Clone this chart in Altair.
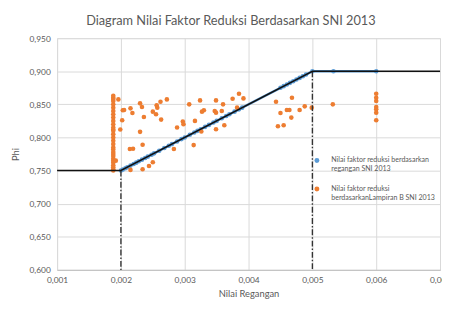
import altair as alt
import pandas as pd

S1 = "Nilai faktor reduksi berdasarkan|regangan SNI 2013"
S2 = "Nilai faktor reduksi|berdasarkanLampiran B SNI 2013"

# Blue series (strain-based reduction factor)
blue_x = [0.00200, 0.00203, 0.00207, 0.00210, 0.00215, 0.00220, 0.00224, 0.00228, 0.00233,
          0.00238, 0.00242, 0.00248, 0.00252, 0.00260, 0.00268, 0.00275, 0.00280,
          0.00288, 0.00295, 0.00300, 0.00308, 0.00315, 0.00320, 0.00325, 0.00332,
          0.00338, 0.00345, 0.00350, 0.00358, 0.00365, 0.00370, 0.00378, 0.00385,
          0.00390, 0.00450, 0.00455, 0.00460, 0.00465, 0.00470, 0.00475, 0.00480,
          0.00485, 0.00490, 0.00500, 0.00533, 0.00600]
blue_y = [0.7500, 0.7515, 0.7535, 0.7550, 0.7575, 0.7600, 0.7620, 0.7640, 0.7665,
          0.7690, 0.7710, 0.7740, 0.7760, 0.7800, 0.7840, 0.7875, 0.7900,
          0.7940, 0.7975, 0.8000, 0.8040, 0.8075, 0.8100, 0.8125, 0.8160,
          0.8190, 0.8225, 0.8250, 0.8290, 0.8325, 0.8350, 0.8390, 0.8425,
          0.8450, 0.8750, 0.8775, 0.8800, 0.8825, 0.8850, 0.8875, 0.8900,
          0.8925, 0.8950, 0.9000, 0.9000, 0.9000]

# Orange series (Lampiran B)
orange_x = [0.00188] * 30 + [
    0.00192, 0.00196, 0.00203, 0.00202, 0.00199, 0.00205, 0.00215, 0.00218, 0.00214,
    0.00219, 0.00230, 0.00233, 0.00236, 0.00230, 0.00234, 0.00215, 0.00234, 0.00244,
    0.00250, 0.00250, 0.00256, 0.00257, 0.00255, 0.00262, 0.00263, 0.00272, 0.00283,
    0.00288, 0.00297, 0.00298, 0.00307, 0.00314, 0.00316, 0.00324, 0.00327, 0.00330,
    0.00326, 0.00349, 0.00347, 0.00349, 0.00349, 0.00360, 0.00362, 0.00358, 0.00375,
    0.00385, 0.00392, 0.00382, 0.00443, 0.00450, 0.00446, 0.00455, 0.00460, 0.00464,
    0.00467, 0.00468, 0.00480, 0.00488, 0.00499, 0.00532,
    0.00600, 0.00600, 0.00600, 0.00600, 0.00600, 0.00600, 0.00600]
orange_y = [0.750, 0.752, 0.755, 0.758, 0.762, 0.765, 0.768, 0.772, 0.775, 0.778,
            0.782, 0.785, 0.790, 0.795, 0.800, 0.805, 0.810, 0.812, 0.815, 0.820,
            0.825, 0.830, 0.835, 0.840, 0.845, 0.850, 0.855, 0.858, 0.860, 0.863] + [
    0.765, 0.8575, 0.841, 0.826, 0.812, 0.8415, 0.844, 0.837, 0.7825,
    0.783, 0.8515, 0.846, 0.831, 0.8085, 0.789, 0.751, 0.752, 0.757,
    0.7625, 0.839, 0.8485, 0.845, 0.835, 0.854, 0.827, 0.8575, 0.7825,
    0.815, 0.824, 0.820, 0.850, 0.7885, 0.825, 0.856, 0.839, 0.841,
    0.809, 0.856, 0.840, 0.8375, 0.8125, 0.850, 0.8185, 0.840, 0.8585,
    0.866, 0.859, 0.845, 0.854, 0.837, 0.817, 0.8185, 0.8415, 0.8415,
    0.830, 0.860, 0.8415, 0.847, 0.845, 0.850,
    0.866, 0.860, 0.855, 0.846, 0.8425, 0.8375, 0.826]

# Reference (SNI) line
ref_x = [0.001, 0.002, 0.005, 0.007]
ref_y = [0.75, 0.75, 0.90, 0.90]

# Dash-dot vertical lines
vline_x = [0.002, 0.005]
vline_top = [0.75, 0.90]
vline_bottom = [0.60, 0.60]

x_ticks = [0.001, 0.002, 0.003, 0.004, 0.005, 0.006, 0.007]
y_ticks = [0.60, 0.65, 0.70, 0.75, 0.80, 0.85, 0.90, 0.95]

BLUE = "#5b9bd5"
ORANGE = "#ed7d31"
GRAY = "#595959"
FONT = "Lato"

blue_df = pd.DataFrame({"x": blue_x, "y": blue_y, "s": S1})
orange_df = pd.DataFrame({"x": orange_x, "y": orange_y, "s": S2})
pts_df = pd.concat([blue_df, orange_df], ignore_index=True)
ref_df = pd.DataFrame({"x": ref_x, "y": ref_y})
vl_df = pd.DataFrame({"x": vline_x, "y": vline_top, "y2": vline_bottom})

lab = "replace(format(datum.value, '.3f'), '.', ',')"

xs = alt.Scale(domain=[0.001, 0.007], nice=False)
ys = alt.Scale(domain=[0.60, 0.95], nice=False)

xax = alt.Axis(values=x_ticks, labelExpr=lab, title="Nilai Regangan", grid=True,
               gridColor="#d9d9d9", tickSize=0, domainColor="#bfbfbf",
               labelColor=GRAY, labelFontSize=8.5, labelFont=FONT, titleFont=FONT,
               titleFontSize=9.5, titleColor=GRAY, titleFontWeight="normal",
               labelPadding=6, titlePadding=5, labelFlush=False)
yax = alt.Axis(values=y_ticks, labelExpr=lab, title="Phi", grid=True,
               gridColor="#d9d9d9", tickSize=0, domain=False,
               labelColor=GRAY, labelFontSize=8.5, labelFont=FONT, titleFont=FONT,
               titleFontSize=9.5, titleColor=GRAY, titleFontWeight="normal",
               labelPadding=7, titlePadding=9)

x = alt.X("x:Q", scale=xs, axis=xax)
y = alt.Y("y:Q", scale=ys, axis=yax)

color = alt.Color("s:N", scale=alt.Scale(domain=[S1, S2], range=[BLUE, ORANGE]),
                  legend=alt.Legend(title=None, orient="none", legendX=261, legendY=121,
                                    labelExpr="split(datum.label, '|')",
                                    labelFont=FONT, labelFontSize=7.2, labelColor=GRAY,
                                    symbolType="circle", symbolSize=25, rowPadding=12,
                                    labelLimit=200, labelOffset=11))

blue_line = alt.Chart(blue_df).mark_line(color=BLUE, strokeWidth=2.5).encode(x=x, y=y)
points = alt.Chart(pts_df).mark_circle(size=22, opacity=1).encode(x=x, y=y, color=color)
ref_line = alt.Chart(ref_df).mark_line(color="#111111", strokeWidth=1.6).encode(x=x, y=y)
vlines = alt.Chart(vl_df).mark_rule(color="#333333", strokeWidth=1.4,
                                    strokeDash=[6, 2, 1.5, 2]).encode(x=x, y=y, y2="y2:Q")

chart = alt.layer(blue_line, points, vlines, ref_line).properties(
    width=390, height=236,
    title=alt.TitleParams("Diagram Nilai Faktor Reduksi Berdasarkan SNI 2013",
                          fontSize=13, font=FONT, color=GRAY, fontWeight="normal",
                          anchor="middle", dx=-18, offset=6),
    autosize=alt.AutoSizeParams(type="none"),
    padding={"left": 50, "top": 28, "right": 2, "bottom": 30},
).configure_view(stroke=None).configure(background="white")

chart.save("out.html", embed_options={"renderer": "svg", "actions": False})
